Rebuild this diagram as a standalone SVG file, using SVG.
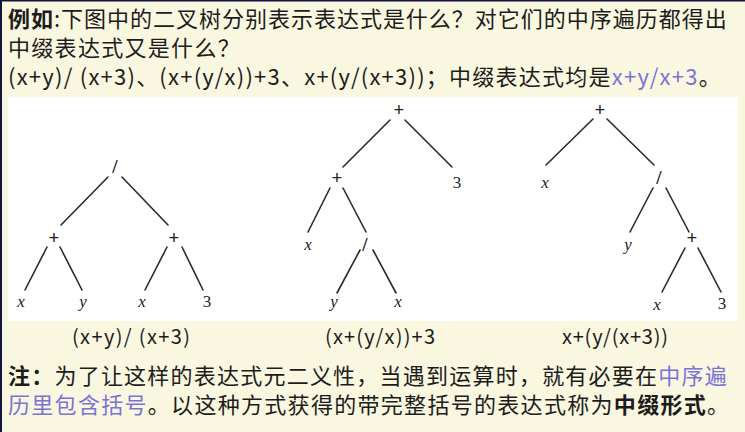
<svg xmlns="http://www.w3.org/2000/svg" width="745" height="432" viewBox="0 0 745 432">
<style>
.t{font-family:"Noto Sans CJK SC","Noto Sans",sans-serif;font-size:22px;fill:#1c1c1c;letter-spacing:1.3px}
.b{font-weight:bold}
.blue{fill:#7b72d8}
.cap{font-family:"Noto Sans CJK SC","Noto Sans",sans-serif;font-size:20px;fill:#1c1c1c;text-anchor:middle}
.n{font-family:"Liberation Serif","Times New Roman",serif;font-size:17px;fill:#222;text-anchor:middle}
.o{font-size:19px;font-weight:bold}
.i{font-style:italic}
.e line{stroke:#2a2a2a;stroke-width:1.6;stroke-linecap:round}
</style>
<rect x="0" y="0" width="745" height="432" fill="#faf7e0"/>
<rect x="0" y="0" width="745" height="1.5" fill="#14143a"/>
<rect x="0" y="0" width="2" height="432" fill="#14143a"/>
<rect x="8" y="97" width="730" height="224" fill="#ffffff"/>

<text class="t" x="8" y="27" textLength="720" lengthAdjust="spacing"><tspan class="b">例如</tspan>:下图中的二叉树分别表示表达式是什么？对它们的中序遍历都得出</text>
<text class="t" x="8" y="56">中缀表达式又是什么？</text>
<text class="t" x="8" y="85" textLength="714" lengthAdjust="spacing">(x+y)/ (x+3)、(x+(y/x))+3、x+(y/(x+3))；中缀表达式均是<tspan class="blue">x+y/x+3</tspan>。</text>

<g class="e" id="connectors">
<line x1="108" y1="177" x2="61" y2="225"/>
<line x1="122" y1="177" x2="168" y2="225"/>
<line x1="47" y1="247" x2="25" y2="290"/>
<line x1="60" y1="247" x2="82" y2="290"/>
<line x1="167" y1="247" x2="145" y2="290"/>
<line x1="182" y1="247" x2="203" y2="290"/>

<line x1="390" y1="120" x2="343" y2="167"/>
<line x1="405" y1="120" x2="452" y2="167"/>
<line x1="330" y1="188" x2="308" y2="232"/>
<line x1="343" y1="188" x2="366" y2="232"/>
<line x1="360" y1="250" x2="337" y2="293"/>
<line x1="373" y1="250" x2="396" y2="293"/>

<line x1="593" y1="119" x2="546" y2="165"/>
<line x1="607" y1="119" x2="654" y2="165"/>
<line x1="653" y1="188" x2="630" y2="232"/>
<line x1="666" y1="188" x2="689" y2="232"/>
<line x1="685" y1="248" x2="662" y2="292"/>
<line x1="698" y1="248" x2="721" y2="292"/>
</g>

<g id="tree1">
<text class="n o" id="t1-div" x="115" y="173">/</text>
<text class="n o" id="t1-p1" x="54" y="244">+</text>
<text class="n o" id="t1-p2" x="174" y="244">+</text>
<text class="n i" id="t1-x1" x="21" y="307">x</text>
<text class="n i" id="t1-y" x="83" y="307">y</text>
<text class="n i" id="t1-x2" x="142" y="307">x</text>
<text class="n" id="t1-3" x="207" y="307">3</text>
</g>
<g id="tree2">
<text class="n o" id="t2-root" x="399" y="116">+</text>
<text class="n o" id="t2-p" x="337" y="184">+</text>
<text class="n" id="t2-3" x="457" y="188">3</text>
<text class="n i" id="t2-x1" x="308" y="250">x</text>
<text class="n o" id="t2-div" x="365" y="251">/</text>
<text class="n i" id="t2-y" x="334" y="307">y</text>
<text class="n i" id="t2-x2" x="398" y="307">x</text>
</g>
<g id="tree3">
<text class="n o" id="t3-root" x="600" y="116">+</text>
<text class="n i" id="t3-x1" x="545" y="188">x</text>
<text class="n o" id="t3-div" x="659" y="184">/</text>
<text class="n i" id="t3-y" x="628" y="250">y</text>
<text class="n o" id="t3-p" x="692" y="244">+</text>
<text class="n i" id="t3-x2" x="657" y="310">x</text>
<text class="n" id="t3-3" x="722" y="309">3</text>
</g>

<text class="cap" x="131" y="344" textLength="118" lengthAdjust="spacing">(x+y)/ (x+3)</text>
<text class="cap" x="380" y="344" textLength="110" lengthAdjust="spacing">(x+(y/x))+3</text>
<text class="cap" x="615" y="344" textLength="106" lengthAdjust="spacing">x+(y/(x+3))</text>

<text class="t" x="8" y="384" textLength="720" lengthAdjust="spacing"><tspan class="b">注：</tspan>为了让这样的表达式元二义性，当遇到运算时，就有必要在<tspan class="blue">中序遍</tspan></text>
<text class="t" x="8" y="413"><tspan class="blue">历里包含括号</tspan>。以这种方式获得的带完整括号的表达式称为<tspan class="b">中缀形式</tspan>。</text>
</svg>
